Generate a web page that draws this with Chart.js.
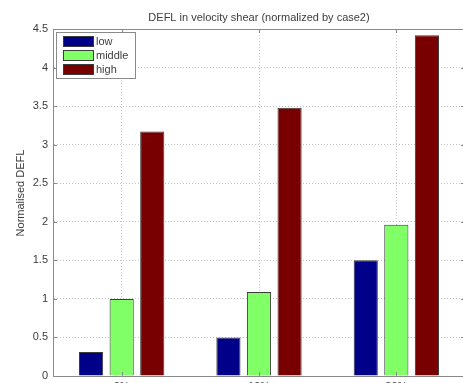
<!DOCTYPE html>
<html>
<head>
<meta charset="utf-8">
<script src="https://cdn.jsdelivr.net/npm/chart.js@4"></script>
<style>
  body { margin: 0; background: #fff; overflow: hidden; }
</style>
</head>
<body>
<canvas id="deflChart" width="475" height="400"></canvas>
<script>
// data
const categories = ['0%', '10%', '30%'];
const seriesNames = ['low', 'middle', 'high'];
const lowValues = [0.31, 0.5, 1.5];
const middleValues = [1.0, 1.09, 1.96];
const highValues = [3.17, 3.48, 4.42];
const yMin = 0, yMax = 4.5, yStep = 0.5;

const colors = {
    low: '#000088',
    middle: '#80ff66',
    high: '#780000',
    edge: '#3a3a3a',
    axis: '#8a8a8a',
    grid: '#c4c4c4',
    text: '#3c3c3c'
};
const fontFamily = '"Liberation Sans", Arial, sans-serif';

// title, y label, legend box, top border and inward tick marks (matlab look)
const matlabBits = {
    id: 'matlabBits',
    afterDraw(chart) {
        const ctx = chart.ctx;
        const area = chart.chartArea;
        const xs = chart.scales.x, ys = chart.scales.y;
        ctx.save();

        ctx.strokeStyle = colors.axis;
        ctx.lineWidth = 1;
        ctx.beginPath();
        ctx.moveTo(area.left, area.top + 0.5);
        ctx.lineTo(area.right, area.top + 0.5);
        xs.ticks.forEach((t, i) => {
            const x = Math.round(xs.getPixelForTick(i)) + 0.5;
            ctx.moveTo(x, area.bottom);
            ctx.lineTo(x, area.bottom - 4);
            ctx.moveTo(x, area.top);
            ctx.lineTo(x, area.top + 4);
        });
        ys.ticks.forEach((t, i) => {
            const y = Math.round(ys.getPixelForTick(i)) + 0.5;
            ctx.moveTo(area.left, y);
            ctx.lineTo(area.left + 4, y);
            ctx.moveTo(area.right, y);
            ctx.lineTo(area.right - 4, y);
        });
        ctx.stroke();

        ctx.fillStyle = colors.text;
        ctx.font = '11px ' + fontFamily;
        ctx.textAlign = 'center';
        ctx.textBaseline = 'middle';
        ctx.fillText('DEFL in velocity shear (normalized by case2)', (area.left + area.right) / 2, 18);

        ctx.save();
        ctx.translate(21, 193);
        ctx.rotate(-Math.PI / 2);
        ctx.fillText('Normalised DEFL', 0, 0);
        ctx.restore();

        // legend
        ctx.fillStyle = '#fff';
        ctx.fillRect(57, 32, 79, 46);
        ctx.strokeStyle = colors.axis;
        ctx.strokeRect(56.5, 32.5, 79, 46);
        chart.data.datasets.forEach((ds, i) => {
            const y = 36 + i * 14;
            ctx.fillStyle = ds.backgroundColor;
            ctx.fillRect(63, y, 30, 11);
            ctx.strokeStyle = colors.edge;
            ctx.strokeRect(63.5, y + 0.5, 30, 10);
            ctx.fillStyle = colors.text;
            ctx.textAlign = 'left';
            ctx.fillText(ds.label, 96, y + 6);
        });
        ctx.restore();
    }
};

const barStyle = {
    borderColor: colors.edge,
    borderWidth: 1,
    categoryPercentage: 0.668,
    barPercentage: 0.79
};

new Chart(document.getElementById('deflChart'), {
    type: 'bar',
    data: {
        labels: categories,
        datasets: [
            { label: seriesNames[0], data: lowValues, backgroundColor: colors.low, ...barStyle },
            { label: seriesNames[1], data: middleValues, backgroundColor: colors.middle, ...barStyle },
            { label: seriesNames[2], data: highValues, backgroundColor: colors.high, ...barStyle }
        ]
    },
    options: {
        responsive: false,
        animation: false,
        devicePixelRatio: 1,
        layout: { padding: { top: 29, right: 10, left: 0, bottom: 0 } },
        plugins: {
            legend: { display: false },
            title: { display: false },
            tooltip: { enabled: false }
        },
        scales: {
            x: {
                offset: true,
                afterFit: s => { s.height = 24; },
                grid: {
                    offset: false,
                    drawTicks: false,
                    color: colors.grid
                },
                border: { color: colors.axis, dash: [1, 2] },
                ticks: { color: colors.text, padding: 4, font: { size: 11, family: fontFamily } }
            },
            y: {
                min: yMin,
                max: yMax,
                afterFit: s => { s.width = 53; },
                grid: { drawTicks: false, color: colors.grid },
                border: { color: colors.axis, dash: [1, 2] },
                ticks: {
                    stepSize: yStep,
                    color: colors.text,
                    padding: 5,
                    font: { size: 11, family: fontFamily },
                    callback: value => String(value)
                }
            }
        }
    },
    plugins: [matlabBits]
});
</script>
</body>
</html>
